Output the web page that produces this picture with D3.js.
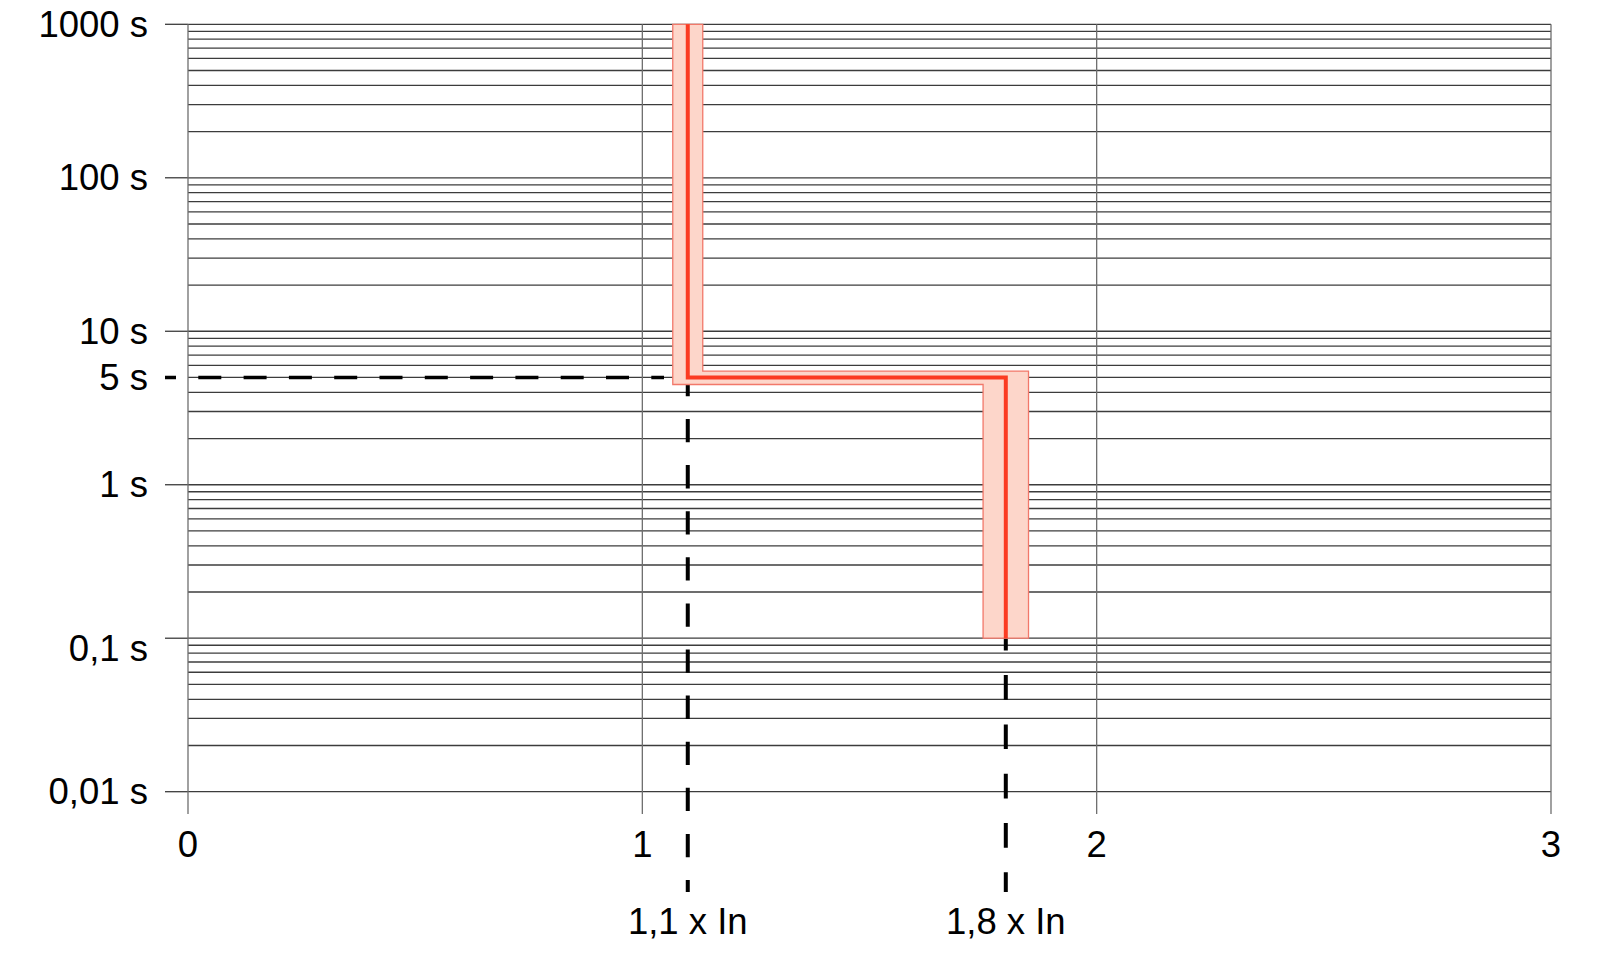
<!DOCTYPE html>
<html>
<head>
<meta charset="utf-8">
<script src="https://cdn.jsdelivr.net/npm/d3@7/dist/d3.min.js"></script>
<style>
  html, body { margin: 0; padding: 0; background: #fff; }
  svg { display: block; }
  text { font-family: "Liberation Sans", Arial, sans-serif; font-size: 36.5px; fill: #000; }
</style>
</head>
<body>
<svg id="chart" width="1600" height="953"></svg>
<script>
// ---- data ----
const xTicks = [0, 1, 2, 3];
const xTickLabels = ["0", "1", "2", "3"];
const yTickValues = [1000, 100, 10, 5, 1, 0.1, 0.01];
const yTickLabels = ["1000 s", "100 s", "10 s", "5 s", "1 s", "0,1 s", "0,01 s"];
const yMajor = [1000, 100, 10, 1, 0.1, 0.01];

// trip curve (multiple of In, time in s)
const curveI = [1.1, 1.1, 1.8, 1.8];
const curveT = [1000, 5, 5, 0.1];

// tolerance band outline
const bandI = [1.067, 1.067, 1.75, 1.75, 1.85, 1.85, 1.133, 1.133];
const bandT = [1000, 4.5, 4.5, 0.1, 0.1, 5.5, 5.5, 1000];

// marker lines
const markerI = [1.1, 1.8];
const markerFromT = [4.5, 0.1];
const markerLabels = ["1,1 x In", "1,8 x In"];
const markerTime = 5;

// ---- drawing ----
const svg = d3.select("#chart");
const x = d3.scaleLinear().domain([0, 3]).range([188, 1551]);
const y = d3.scaleLog().domain([0.01, 1000]).range([791.7, 24.3]);

svg.append("rect").attr("width", 1600).attr("height", 953).attr("fill", "#fff");

// horizontal grid (every log minor tick)
const gridVals = y.ticks();
svg.append("g").selectAll("line").data(gridVals).join("line")
  .attr("x1", x(0)).attr("x2", x(3))
  .attr("y1", d => y(d)).attr("y2", d => y(d))
  .attr("stroke", "#3c3c3c").attr("stroke-width", 1.3);

// major tick stubs to the left
svg.append("g").selectAll("line").data(yMajor).join("line")
  .attr("x1", 165).attr("x2", x(0))
  .attr("y1", d => y(d)).attr("y2", d => y(d))
  .attr("stroke", "#3c3c3c").attr("stroke-width", 1.3);

// vertical grid lines
svg.append("g").selectAll("line").data(xTicks).join("line")
  .attr("x1", d => x(d)).attr("x2", d => x(d))
  .attr("y1", y(1000)).attr("y2", 814)
  .attr("stroke", "#6e6e6e").attr("stroke-width", 1.3);

// dashed helper lines
svg.append("line")
  .attr("x1", 165).attr("x2", 664)
  .attr("y1", y(markerTime)).attr("y2", y(markerTime))
  .attr("stroke", "#000").attr("stroke-width", 3.5)
  .attr("stroke-dasharray", "23 22.3").attr("stroke-dashoffset", 12);

const dashes = [["23.3 22.8", 11.6], ["24.7 24.6", 12.4]];
markerI.forEach((v, i) => {
  svg.append("line")
    .attr("x1", x(v)).attr("x2", x(v))
    .attr("y1", y(markerFromT[i])).attr("y2", 892)
    .attr("stroke", "#000").attr("stroke-width", 4)
    .attr("stroke-dasharray", dashes[i][0]).attr("stroke-dashoffset", dashes[i][1]);
});

// tolerance band
const bandPts = bandI.map((v, i) => [x(v), y(bandT[i])]);
svg.append("path")
  .attr("d", d3.line()(bandPts) + "Z")
  .attr("fill", "#fdd6ca").attr("stroke", "#f2786a").attr("stroke-width", 1.3);

// trip curve
const curvePts = curveI.map((v, i) => [x(v), y(curveT[i])]);
svg.append("path")
  .attr("d", d3.line()(curvePts))
  .attr("fill", "none").attr("stroke", "#fb3b22").attr("stroke-width", 4)
  .attr("stroke-linejoin", "miter");

// y labels (the 0,1 s label sits a little below its line in the original)
svg.append("g").selectAll("text").data(yTickValues).join("text")
  .attr("x", 148).attr("y", d => y(d) + (d === 0.1 ? 10.5 : 0))
  .attr("text-anchor", "end").attr("dominant-baseline", "central")
  .text((d, i) => yTickLabels[i]);

// x labels
svg.append("g").selectAll("text").data(xTicks).join("text")
  .attr("x", d => x(d)).attr("y", 857)
  .attr("text-anchor", "middle")
  .text((d, i) => xTickLabels[i]);

// marker labels
svg.append("g").selectAll("text").data(markerI).join("text")
  .attr("x", d => x(d)).attr("y", 934)
  .attr("text-anchor", "middle")
  .text((d, i) => markerLabels[i]);
</script>
</body>
</html>
